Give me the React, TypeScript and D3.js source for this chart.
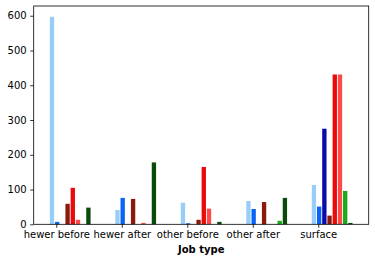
import React, { useEffect, useRef } from 'react';
import * as d3 from 'd3';

// job type groups on the x axis
const jobTypes = ['hewer before', 'hewer after', 'other before', 'other after', 'surface'];

// one array per series (bar colour), one value per job type
const lightBlueVals = [597, 41, 62, 67, 113];
const blueVals = [7, 76, 3, 44, 51];
const darkBlueVals = [0, 0, 0, 0, 275];
const darkRedVals = [59, 73, 13, 64, 25];
const redVals = [105, 0, 165, 0, 431];
const lightRedVals = [13, 4, 45, 0, 431];
const greenVals = [0, 0, 0, 10, 96];
const darkGreenVals = [48, 178, 7, 76, 4];

const seriesColors = ['#99cdf8', '#0a64f5', '#0a0aad', '#8c1a0c', '#ea0a0a', '#ff4a4a', '#1aaa1a', '#0a4a0a'];
const yTicks = [0, 100, 200, 300, 400, 500, 600];

const App = () => {
  const svgRef = useRef(null);

  useEffect(() => {
    const svg = d3.select(svgRef.current);
    svg.selectAll('*').remove();

    const left = 33.7, right = 368.7, top = 6, bottom = 224.3;
    const series = [lightBlueVals, blueVals, darkBlueVals, darkRedVals, redVals, lightRedVals, greenVals, darkGreenVals];

    const x = d3.scaleLinear().domain([-0.345, 4.77]).range([left, right]);
    const y = d3.scaleLinear().domain([0, 628]).range([bottom, top]);

    const slot = 0.0795;
    const barW = 0.066;

    const g = svg.append('g');

    series.forEach((vals, j) => {
      g.selectAll('.bar' + j)
        .data(vals)
        .enter()
        .append('rect')
        .attr('x', (d, i) => x(i + (j - 0.83) * slot - barW / 2))
        .attr('y', d => y(d))
        .attr('width', x(barW) - x(0))
        .attr('height', d => y(0) - y(d))
        .attr('fill', seriesColors[j]);
    });

    // frame
    svg.append('rect')
      .attr('x', left).attr('y', top)
      .attr('width', right - left).attr('height', bottom - top)
      .attr('fill', 'none').attr('stroke', '#000').attr('stroke-width', 0.8);

    // y axis
    const yAxis = svg.append('g').attr('transform', `translate(${left},0)`)
      .call(d3.axisLeft(y).tickValues(yTicks).tickSize(3.5).tickPadding(3.5));
    yAxis.select('.domain').remove();

    // x axis
    const xAxis = svg.append('g').attr('transform', `translate(0,${bottom})`)
      .call(d3.axisBottom(x).tickValues(d3.range(jobTypes.length)).tickFormat(i => jobTypes[i]).tickSize(3.5).tickPadding(3.5));
    xAxis.select('.domain').remove();

    svg.selectAll('.tick line').attr('stroke', '#000').attr('stroke-width', 0.8);
    svg.selectAll('.tick text')
      .attr('font-family', 'DejaVu Sans')
      .attr('font-size', 10)
      .attr('fill', '#000');

    svg.append('text')
      .attr('x', (left + right) / 2)
      .attr('y', 252.5)
      .attr('text-anchor', 'middle')
      .attr('font-family', 'DejaVu Sans')
      .attr('font-size', 10)
      .attr('font-weight', 'bold')
      .text('Job type');
  }, []);

  return (
    <svg ref={svgRef} width={375} height={262}
      style={{ position: 'absolute', left: 0, top: 0, background: '#fff' }} />
  );
};

export default App;
